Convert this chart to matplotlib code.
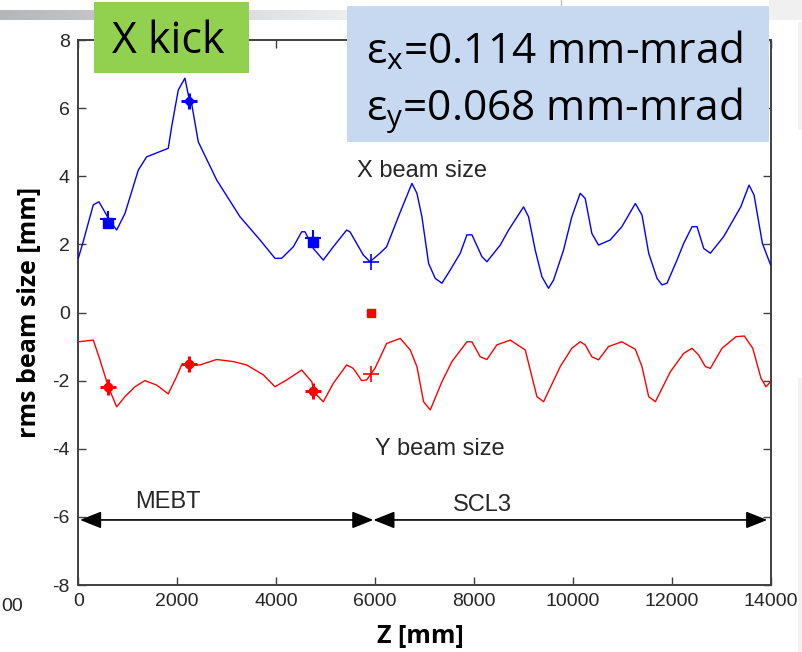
import matplotlib
matplotlib.use("Agg")
import matplotlib.pyplot as plt
import numpy as np
from matplotlib.patches import Rectangle, ArrowStyle
from matplotlib.colors import LinearSegmentedColormap

plt.rcParams["axes.unicode_minus"] = False

# ---------------- data ----------------
z_x = [0, 89, 303, 418, 607, 776, 944, 1213, 1382, 1819, 1887, 2021, 2156, 2224, 2291, 2426,
       2798, 3270, 3674, 3977, 4112, 4348, 4517, 4584, 4752, 4954, 5156, 5425, 5493, 5762,
       5897, 6099, 6234, 6510, 6746, 6847, 6948, 7083, 7218, 7353, 7521, 7723, 7858, 7959,
       8161, 8262, 8532, 8700, 9003, 9104, 9239, 9374, 9508, 9609, 9811, 9979, 10148, 10249,
       10384, 10519, 10755, 10991, 11263, 11398, 11533, 11702, 11803, 11904, 12106, 12241,
       12410, 12511, 12646, 12780, 13050, 13394, 13562, 13663, 13832, 14000]
x_size = [1.59, 2.03, 3.16, 3.25, 2.77, 2.42, 2.91, 4.18, 4.57, 4.82, 5.45, 6.53, 6.88, 6.39,
          6.14, 5.01, 3.89, 2.81, 2.13, 1.59, 1.59, 1.93, 2.37, 2.37, 1.88, 1.54, 1.93, 2.42,
          2.37, 1.69, 1.49, 1.74, 1.93, 2.95, 3.79, 3.50, 2.81, 1.44, 1.00, 0.86, 1.25, 1.74,
          2.28, 2.28, 1.64, 1.49, 1.98, 2.42, 3.10, 2.81, 1.83, 1.05, 0.71, 0.95, 1.83, 2.81,
          3.50, 3.35, 2.32, 1.98, 2.13, 2.52, 3.20, 2.86, 1.74, 1.00, 0.81, 0.86, 1.54, 2.03,
          2.52, 2.52, 1.88, 1.74, 2.23, 3.10, 3.74, 3.45, 2.03, 1.39]

z_y = [0, 303, 438, 607, 776, 944, 1146, 1348, 1584, 1819, 1988, 2089, 2257, 2459, 2797, 3134,
       3404, 3741, 3977, 4213, 4517, 4719, 4786, 4954, 5156, 5425, 5560, 5729, 5830, 5998,
       6234, 6510, 6712, 6847, 6982, 7117, 7353, 7555, 7858, 7959, 8127, 8262, 8464, 8734,
       9037, 9273, 9408, 9744, 9979, 10148, 10249, 10384, 10519, 10721, 10991, 11263, 11398,
       11533, 11668, 11971, 12241, 12410, 12544, 12679, 12780, 13016, 13299, 13467, 13637,
       13804, 13905, 14000]
y_size = [-0.86, -0.81, -1.39, -2.18, -2.77, -2.47, -2.18, -2.00, -2.13, -2.39, -1.88, -1.54,
          -1.54, -1.54, -1.38, -1.44, -1.54, -1.83, -2.18, -1.98, -1.69, -2.03, -2.37, -2.62,
          -2.08, -1.54, -1.64, -2.00, -1.98, -1.64, -0.91, -0.76, -1.10, -1.59, -2.62, -2.86,
          -2.03, -1.44, -0.86, -0.86, -1.30, -1.38, -0.95, -0.81, -1.10, -2.47, -2.62, -1.59,
          -1.05, -0.86, -0.95, -1.30, -1.39, -1.00, -0.86, -1.08, -1.59, -2.47, -2.62, -1.74,
          -1.20, -1.05, -1.25, -1.59, -1.64, -1.05, -0.71, -0.69, -1.05, -1.93, -2.18, -2.03]

# measurement markers
mark_z = [607, 2245, 4752, 5920]
x_marks = [2.63, 6.20, 2.06, 1.47]
y_marks = [-2.18, -1.52, -2.30, -1.80]
ref_z = [5912]
ref_val = [0.0]

# sections
sections = ["MEBT", "SCL3"]
section_start = [35, 5966]
section_end = [5966, 13930]
section_label_z = [1147, 7577]
section_label_y = [-5.74, -5.82]

x_ticks = list(range(0, 14001, 2000))
y_ticks = list(range(-8, 9, 2))

emit_x = "0.114"
emit_y = "0.068"

# ---------------- figure ----------------
W, H = 802, 652
fig = plt.figure(figsize=(W / 100, H / 100), dpi=100, facecolor="white")


def fx(px):
    return px / W


def fy(py):
    return 1 - py / H


ax = fig.add_axes([fx(78.3), fy(585), (770.7 - 78.3) / W, (585 - 40) / H])
ax.set_zorder(2)

ax.plot(z_x, x_size, color="#0000FF", lw=1.0, zorder=3)
ax.plot(z_y, y_size, color="#FF0000", lw=1.0, zorder=3)

# X markers
ax.plot([mark_z[0], mark_z[2]], [x_marks[0], x_marks[2]], "s", color="#0000FF", ms=6.5, zorder=4)
ax.plot([mark_z[0], mark_z[2]], [x_marks[0] + 0.12, x_marks[2] + 0.12], "+", color="#0000FF",
        ms=11, mew=1.5, zorder=4)
ax.plot([mark_z[1]], [x_marks[1]], "+", color="#0000FF", ms=11, mew=2.2, zorder=4)
ax.plot([mark_z[1]], [x_marks[1]], "D", color="#0000FF", ms=5, zorder=4)
ax.plot([mark_z[3]], [x_marks[3]], "+", color="#0000FF", ms=12, mew=1.2, zorder=4)

# Y markers
ax.plot(mark_z[:3], y_marks[:3], "+", color="#FF0000", ms=11, mew=2.2, zorder=4)
ax.plot(mark_z[:3], y_marks[:3], "o", color="#FF0000", ms=6, zorder=4)
ax.plot([mark_z[3]], [y_marks[3]], "+", color="#FF0000", ms=12, mew=1.2, zorder=4)
ax.plot(ref_z, ref_val, "s", color="#FF0000", ms=5.5, zorder=4)

# section arrows
astyle = ArrowStyle("<|-|>", head_length=0.65, head_width=0.26)
for s, e in zip(section_start, section_end):
    ax.annotate("", xy=(e, -6.09), xytext=(s, -6.09),
                arrowprops=dict(arrowstyle=astyle, mutation_scale=20, shrinkA=0, shrinkB=0,
                                lw=1.2, color="black"), zorder=3)
for lab, lz, ly in zip(sections, section_label_z, section_label_y):
    ax.text(lz, ly, lab, fontsize=17, family="Liberation Sans", color="#262626",
            ha="left", va="baseline")

ax.text(5635, 3.98, "X beam size", fontsize=17, family="Liberation Sans", color="#262626",
        ha="left", va="baseline")
ax.text(5997, -4.18, "Y beam size", fontsize=17, family="Liberation Sans", color="#262626",
        ha="left", va="baseline")

ax.set_xlim(0, 14000)
ax.set_ylim(-8, 8)
ax.set_xticks(x_ticks)
ax.set_yticks(y_ticks)
ax.tick_params(direction="in", length=6, width=1.0, color="#404040", top=True, right=True,
               labelsize=14, labelcolor="#262626")
ax.tick_params(axis="x", pad=6)
ax.tick_params(axis="y", pad=6)
for lab in ax.get_xticklabels() + ax.get_yticklabels():
    lab.set_family("Liberation Sans")
for sp in ax.spines.values():
    sp.set_color("#404040")
    sp.set_linewidth(1.4)

# axis labels
fig.text(fx(29), fy(312), "rms beam size [mm]", rotation=90, ha="center", va="center",
         fontsize=18, fontweight="bold", family="Open Sans", color="black")
fig.text(fx(420), fy(643), "Z [mm]", ha="center", va="baseline",
         fontsize=18, fontweight="bold", family="Open Sans", color="black")
fig.text(fx(1), fy(611), "00", ha="left", va="baseline", fontsize=14,
         family="Liberation Sans", color="#262626")

# top-left gradient bar
gax = fig.add_axes([0, fy(20), fx(347), 10 / H])
gax.set_zorder(1)
grad = np.linspace(0, 1, 256)[None, :]
cmap = LinearSegmentedColormap.from_list("g", ["#b4b6ba", "#eceef0"])
gax.imshow(grad, aspect="auto", cmap=cmap, extent=[0, 1, 0, 1])
gax.axis("off")

# misc decorations at right
fig.patches.append(Rectangle((fx(769), fy(20)), fx(802) - fx(769), 20 / H,
                             transform=fig.transFigure, facecolor="#f0f0f0", edgecolor="none",
                             zorder=1))
fig.patches.append(Rectangle((fx(798), fy(130)), 4 / W, 108 / H, transform=fig.transFigure,
                             facecolor="#f2f2f2", edgecolor="none", zorder=1))
fig.patches.append(Rectangle((fx(798), 0), 4 / W, fy(378), transform=fig.transFigure,
                             facecolor="#f2f2f2", edgecolor="none", zorder=1))
fig.add_artist(plt.Line2D([fx(561), fx(561)], [fy(0), fy(6)], transform=fig.transFigure,
                          color="#c0c0c0", lw=1, zorder=1))

# green "X kick" box
fig.add_artist(Rectangle((fx(94), fy(73)), (249 - 94) / W, 71 / H, transform=fig.transFigure,
                         facecolor="#92D050", edgecolor="none", zorder=10))
fig.text(fx(112), fy(53), "X kick", ha="left", va="baseline", fontsize=31,
         family="Open Sans", color="black", zorder=11)

# blue emittance box
fig.add_artist(Rectangle((fx(347), fy(141.5)), (769 - 347) / W, 135.5 / H,
                         transform=fig.transFigure, facecolor="#C6D9F0", edgecolor="none",
                         zorder=10))
fig.text(fx(366), fy(63), "ε$_\\mathregular{x}$=" + emit_x + " mm-mrad", ha="left",
         va="baseline", fontsize=30.5, family="Open Sans", color="black", zorder=11)
fig.text(fx(366), fy(120), "ε$_\\mathregular{y}$=" + emit_y + " mm-mrad", ha="left",
         va="baseline", fontsize=30.5, family="Open Sans", color="black", zorder=11)

fig.savefig("out.png", dpi=100, facecolor="white")
